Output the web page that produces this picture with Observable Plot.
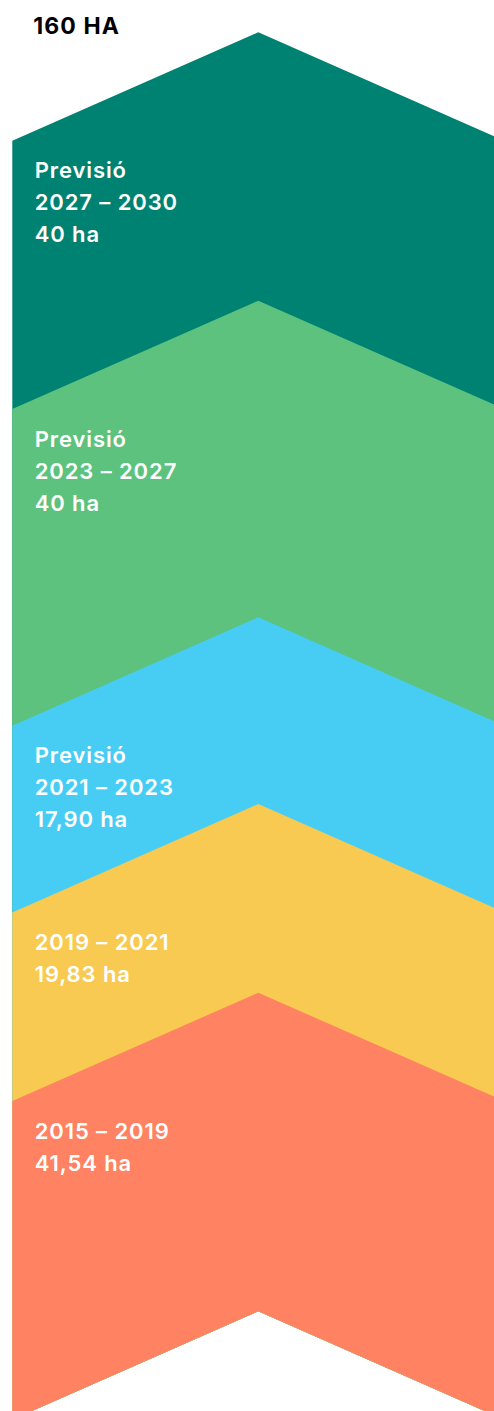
<!DOCTYPE html>
<html><head><meta charset="utf-8">
<script src="https://cdn.jsdelivr.net/npm/d3@7"></script>
<script src="https://cdn.jsdelivr.net/npm/@observablehq/plot@0.6"></script>
<style>html,body{margin:0;padding:0;background:#fff;overflow:hidden}</style>
</head><body><div id="chart"></div>
<script>
// Data (top segment first)
const periods = ["2027 – 2030", "2023 – 2027", "2021 – 2023", "2019 – 2021", "2015 – 2019"];
const hectares = [40, 40, 17.90, 19.83, 41.54];
const prevision = [true, true, true, false, false];
const colors = ["#008273", "#5CC27E", "#47CDF4", "#F9CA51", "#FF8262"];
const totalLabel = "160 HA";

const fmtHa = v => (Number.isInteger(v) ? String(v) : v.toFixed(2).replace(".", ",")) + " ha";

// cumulative boundaries, bottom → top
const bounds = [0, ...d3.cumsum(hectares.slice().reverse())];
const tops = hectares.map((_, i) => bounds[bounds.length - 1 - i]);

const yOpts = {type: "linear", domain: bounds, range: [1311.3, 992.7, 804, 617.3, 300.7, 32.3]};
const ys = Plot.scale({y: yOpts});
const wing = 108.4; // vertical drop of chevron wings (px)
const xs = [-1, 0, 1];
const chevron = (v, x) => ys.invert(ys.apply(v) + wing * Math.abs(x));

const segments = periods.map((p, i) => ({
  period: p,
  top: tops[i],
  label: (prevision[i] ? "Previsió\n" : "") + p + "\n" + fmtHa(hectares[i])
}));

const areaData = segments.flatMap(s => xs.map(x => ({
  period: s.period, x, y1: chevron(s.top, x), y2: chevron(0, x)
})));

const chart = Plot.plot({
  width: 494,
  height: 1411,
  margin: 0,
  x: {domain: [-1, 1], range: [12.3, 504.3], axis: null},
  y: {...yOpts, axis: null},
  color: {domain: periods, range: colors},
  style: {fontFamily: "Inter", overflow: "hidden", background: "#fff", letterSpacing: "0.9px"},
  marks: [
    ...segments.map(s => Plot.areaY(areaData.filter(d => d.period === s.period), {
      x: "x", y1: "y1", y2: "y2", fill: "period", clip: true
    })),
    Plot.text(segments, {
      x: () => -1, y: "top", text: "label",
      dx: 21.9, dy: 122.8, textAnchor: "start", lineAnchor: "top",
      lineHeight: 32 / 22, fill: "white", fontSize: 22, fontWeight: 600
    }),
    Plot.text([totalLabel], {
      frameAnchor: "top-left", dx: 32.8, dy: 17.3, textAnchor: "start", lineAnchor: "top",
      fontSize: 23, fontWeight: 700, fill: "black"
    })
  ]
});
const textGroups = chart.querySelectorAll('g[aria-label="text"]');
textGroups[textGroups.length - 1].setAttribute("letter-spacing", "1.1px");
textGroups[textGroups.length - 1].style.letterSpacing = "1.1px";
document.getElementById("chart").append(chart);
</script>
</body></html>
